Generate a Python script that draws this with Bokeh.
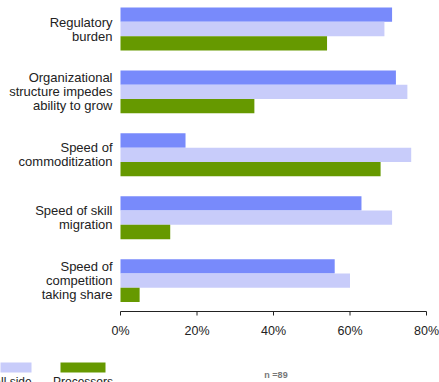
from bokeh.plotting import figure
from bokeh.models import Range1d, ColumnDataSource
from bokeh.core.properties import value
from bokeh.embed import file_html
from bokeh.resources import INLINE

# Survey data: share of respondents citing each barrier (%)
categories = [
    "Regulatory\nburden",
    "Organizational\nstructure impedes\nability to grow",
    "Speed of\ncommoditization",
    "Speed of skill\nmigration",
    "Speed of\ncompetition\ntaking share",
]
series_names = ["Buy side", "Sell side", "Processors"]
buy_side = [71, 72, 17, 63, 56]
sell_side = [69, 75, 76, 71, 60]
processors = [54, 35, 68, 13, 5]
x_ticks = [0, 20, 40, 60, 80]
sample_note = "n =89"

colors = ["#788AFB", "#C8CCFA", "#669900"]
FONT = "Liberation Sans"
TEXT = "#222222"

W, H = 439, 382
# layout of the canvas: the frame spans the whole page; these convert
# canvas pixels to data units (x in %, y in category index)
X0, XS = 120.0, 3.825     # pixel of 0 %, pixels per %
Y0, YS = 28.5, 62.9       # pixel of first category centre, pixels per category


def dx(px):
    return (px - X0) / XS


def dy(py):
    return (py - Y0) / YS


p = figure(
    width=W, height=H,
    x_range=Range1d(dx(0), dx(W)), y_range=Range1d(dy(H), dy(0)),
    output_backend="svg", toolbar_location=None,
    min_border=0, min_border_left=0, min_border_right=0,
    min_border_top=0, min_border_bottom=0,
)
p.axis.visible = False
p.xgrid.visible = False
p.ygrid.visible = False
p.outline_line_color = None
p.background_fill_color = "white"

# grouped horizontal bars
bar_h = 14.3 / YS
for k, vals in enumerate([buy_side, sell_side, processors]):
    src = ColumnDataSource(dict(y=[i + (k - 1) * bar_h for i in range(len(vals))], v=vals))
    p.hbar(y="y", right="v", left=0, height=bar_h, source=src,
           fill_color=colors[k], line_color=None)

# category labels, right-aligned, one text per line
line_gap = 14 / YS
lx, ly, lt = [], [], []
for i, cat in enumerate(categories):
    lines = cat.split("\n")
    n = len(lines)
    for j, line in enumerate(lines):
        lx.append(0)
        ly.append(i + (j - (n - 1) / 2) * line_gap)
        lt.append(line)
p.text(x=lx, y=ly, text=lt, x_offset=-8, text_align="right", text_baseline="middle",
       text_font=value(FONT), text_font_size="13px", text_color=TEXT)

# value axis along the bottom
axis_y = dy(311)
p.segment(x0=[x_ticks[0]], y0=[axis_y], x1=[x_ticks[-1]], y1=[axis_y],
          line_color=TEXT, line_width=1)
p.segment(x0=x_ticks, y0=[axis_y] * len(x_ticks), x1=x_ticks, y1=[dy(315)] * len(x_ticks),
          line_color=TEXT, line_width=1)
p.text(x=x_ticks, y=[dy(330.5)] * len(x_ticks), text=[f"{t}%" for t in x_ticks],
       text_align="center", text_baseline="middle",
       text_font=value(FONT), text_font_size="12.5px", text_color=TEXT)

# legend below the axis: swatch with its name underneath
item_px = [-37.5, 8.5, 82.5]
item_x = [dx(c) for c in item_px]
p.rect(x=item_x, y=[dy(367)] * 3, width=45 / XS, height=10 / YS,
       fill_color=colors, line_color=None)
p.text(x=item_x, y=[dy(374)] * 3, text=series_names,
       text_align="center", text_baseline="top",
       text_font=value(FONT), text_font_size="12px", text_color=TEXT)

# sample size note
p.text(x=[dx(275.5)], y=[dy(374)], text=[sample_note],
       text_align="center", text_baseline="middle",
       text_font=value(FONT), text_font_size="9px", text_font_style="bold",
       text_color="#777777")

open("out.html", "w").write(file_html(p, INLINE))
